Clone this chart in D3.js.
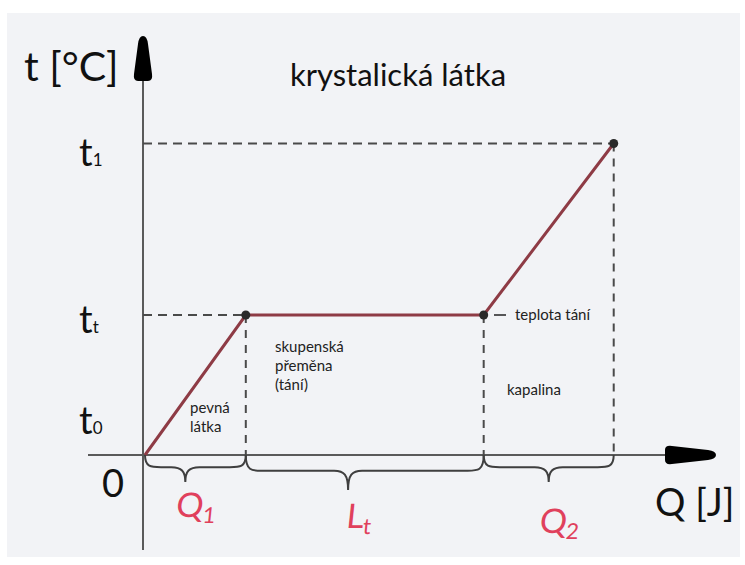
<!DOCTYPE html>
<html>
<head>
<meta charset="utf-8">
<script src="https://cdn.jsdelivr.net/npm/d3@7"></script>
<style>
  html, body { margin: 0; padding: 0; background: #ffffff; }
  svg { display: block; }
  text { font-family: Lato, "Open Sans", sans-serif; }
</style>
</head>
<body>
<svg id="chart" width="745" height="565"></svg>
<script>
// Heating curve of a crystalline substance: cumulative heat Q vs. temperature t
const heatQ = [0, 2, 6.72, 9.3];          // cumulative heat at the curve's corners
const temps = [0, 40, 40, 89];            // temperature at those corners
const tempLevels = [
  { name: "t", sub: "0", value: 0 },
  { name: "t", sub: "t", value: 40 },
  { name: "t", sub: "1", value: 89 }
];
const braceLabels = [
  { name: "Q", sub: "1" },
  { name: "L", sub: "t" },
  { name: "Q", sub: "2" }
];
const phaseLabels = [["pevná", "látka"], ["skupenská", "přeměna", "(tání)"], ["kapalina"]];
const meltLabel = "teplota tání";
const title = "krystalická látka";
const yTitle = "t [°C]";
const xTitle = "Q [J]";

const svg = d3.select("#chart");

// paper background
svg.append("rect").attr("x", 7).attr("y", 13).attr("width", 733).attr("height", 544)
  .attr("fill", "#f2f3f6");

const x = d3.scaleLinear().domain([0, 10]).range([145, 649]);
const y = d3.scaleLinear().domain([0, 100]).range([455, 105]);

const axisColor = "#5a5a5a";
const dashColor = "#4a4a4a";

// axes
svg.append("line").attr("x1", x(0) - 2).attr("x2", x(0) - 2).attr("y1", 80).attr("y2", 550)
  .attr("stroke", axisColor).attr("stroke-width", 2);
svg.append("line").attr("x1", 88).attr("x2", 670).attr("y1", y(0)).attr("y2", y(0))
  .attr("stroke", axisColor).attr("stroke-width", 2);

// arrow heads (tapered, hand-inked)
svg.append("path")
  .attr("d", "M143,36 Q147,36 148,44 L152,74 Q153,81 148,81 L138,81 Q133,81 134,74 L138,44 Q139,36 143,36 Z")
  .attr("fill", "#000");
svg.append("path")
  .attr("d", "M716,455 Q716,459 708,460 L672,464 Q665,465 665,460 L665,450 Q665,445 672,446 L708,450 Q716,451 716,455 Z")
  .attr("fill", "#000");

// reference dashed lines
const dash = "9,6";
const last = heatQ.length - 1;
svg.append("line").attr("x1", x(0) - 2).attr("x2", x(heatQ[last])).attr("y1", y(temps[last])).attr("y2", y(temps[last]))
  .attr("stroke", dashColor).attr("stroke-width", 2).attr("stroke-dasharray", dash);
svg.append("line").attr("x1", x(0) - 2).attr("x2", x(heatQ[1])).attr("y1", y(temps[1])).attr("y2", y(temps[1]))
  .attr("stroke", dashColor).attr("stroke-width", 2).attr("stroke-dasharray", dash);
heatQ.slice(1).forEach((q, i) => {
  svg.append("line").attr("x1", x(q)).attr("x2", x(q)).attr("y1", y(temps[i + 1])).attr("y2", y(0))
    .attr("stroke", dashColor).attr("stroke-width", 2).attr("stroke-dasharray", "8,7");
});

// heating curve
const pts = heatQ.map((q, i) => [x(q), y(temps[i])]);
svg.append("path").attr("d", d3.line()(pts))
  .attr("fill", "none").attr("stroke", "#8e3b45").attr("stroke-width", 3);
svg.selectAll("circle.pt").data(pts.slice(1)).join("circle")
  .attr("cx", d => d[0]).attr("cy", d => d[1]).attr("r", 4.5).attr("fill", "#2a2a2a");

// curly braces under the Q axis
function brace(x0, x1, depth, tipX) {
  const y0 = y(0);
  const m = y0 + depth * 0.45;
  const tip = y0 + depth;
  return `M${x0},${y0} C${x0},${m} ${x0 + 6},${m} ${x0 + 16},${m} ` +
    `L${tipX - 14},${m} C${tipX - 4},${m} ${tipX},${m + 4} ${tipX},${tip} ` +
    `C${tipX},${m + 4} ${tipX + 4},${m} ${tipX + 14},${m} ` +
    `L${x1 - 16},${m} C${x1 - 6},${m} ${x1},${m} ${x1},${y0}`;
}
const braceDepth = [27, 35, 27];
const braceTip = [0.4, 0.43, 0.5];
const labelY = [517, 528, 533];
for (let i = 0; i < 3; i++) {
  const a = x(heatQ[i]), b = x(heatQ[i + 1]);
  const tx = a + (b - a) * braceTip[i];
  svg.append("path").attr("d", brace(a, b, braceDepth[i], tx))
    .attr("fill", "none").attr("stroke", "#3f3f3f").attr("stroke-width", 2);
  const t = svg.append("text").attr("x", tx + 10).attr("y", labelY[i])
    .attr("text-anchor", "middle").attr("fill", "#e0405c")
    .attr("font-size", 34).attr("transform", `skewX(-6)`)
    .attr("dx", labelY[i] * Math.tan(6 * Math.PI / 180));
  t.append("tspan").text(braceLabels[i].name);
  t.append("tspan").attr("font-size", 22).attr("dy", 6).text(braceLabels[i].sub);
}

// temperature level labels
const levelBase = { 0: 434, 40: 333, 89: 166 };
tempLevels.forEach(d => {
  const t = svg.append("text").attr("x", 79).attr("y", levelBase[d.value])
    .attr("font-size", 38).attr("fill", "#111");
  t.append("tspan").text(d.name);
  t.append("tspan").attr("font-size", 17).text(d.sub);
});
svg.append("text").attr("x", 102).attr("y", 497).attr("font-size", 38).attr("fill", "#111").text("0");

// axis titles and main title
svg.append("text").attr("x", 24).attr("y", 81).attr("font-size", 41).attr("fill", "#111").text(yTitle);
svg.append("text").attr("x", 655).attr("y", 516).attr("font-size", 38).attr("fill", "#111").text(xTitle);
svg.append("text").attr("x", 398).attr("y", 86).attr("text-anchor", "middle")
  .attr("font-size", 31).attr("fill", "#111").text(title);

// phase annotations
const phasePos = [[190, 413], [275, 352], [507, 395]];
phaseLabels.forEach((lines, i) => {
  const t = svg.append("text").attr("x", phasePos[i][0]).attr("y", phasePos[i][1])
    .attr("font-size", 15).attr("fill", "#222");
  lines.forEach((l, j) => t.append("tspan").attr("x", phasePos[i][0]).attr("dy", j ? 19 : 0).text(l));
});

// melting point marker
svg.append("line").attr("x1", 494).attr("x2", 506).attr("y1", y(temps[2])).attr("y2", y(temps[2]))
  .attr("stroke", "#222").attr("stroke-width", 1.5);
svg.append("text").attr("x", 515).attr("y", y(temps[2]) + 5).attr("font-size", 15).attr("fill", "#222").text(meltLabel);
</script>
</body>
</html>
